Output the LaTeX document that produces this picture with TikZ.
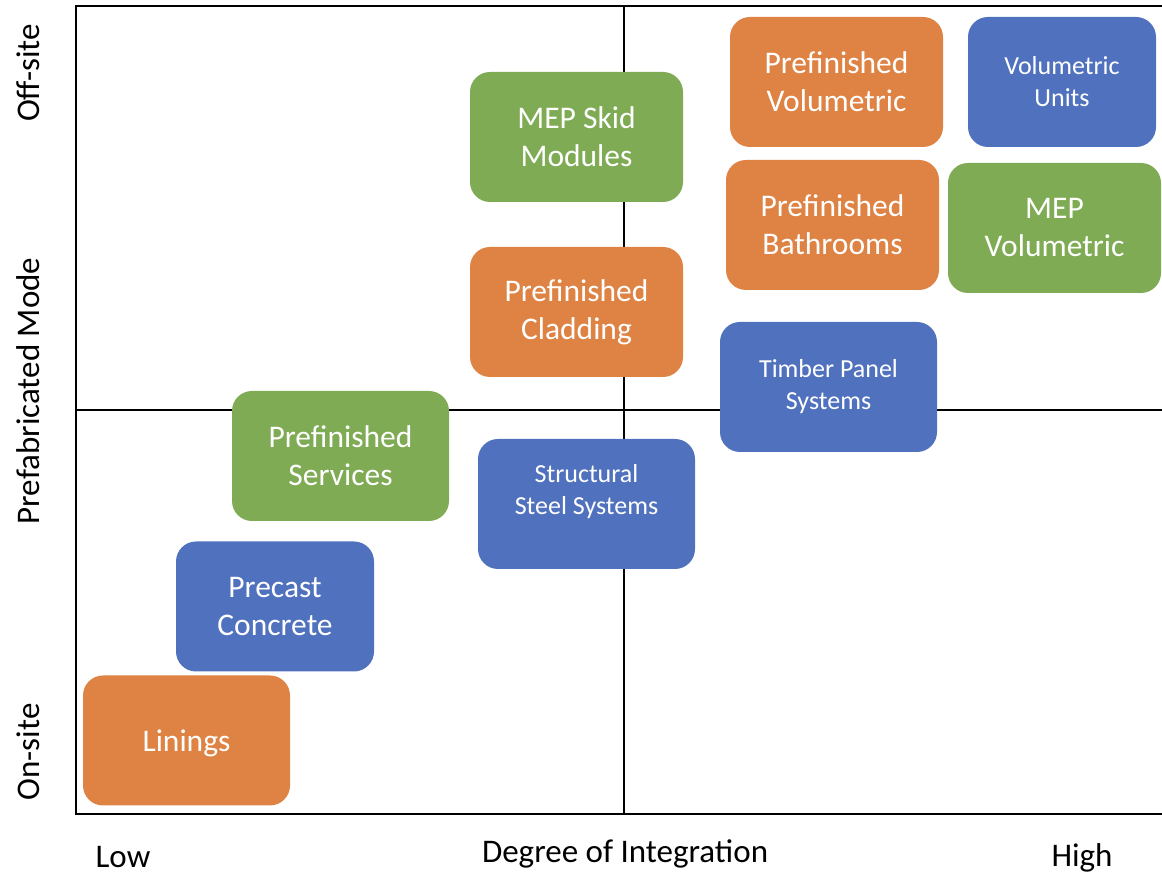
\documentclass[tikz,border=0pt]{standalone}
\usepackage{fontspec}
\setmainfont{Carlito}
\begin{document}
\begin{tikzpicture}[x=1pt,y=1pt,
  box/.style={rounded corners=20pt, draw=none, minimum width=213pt, minimum height=130pt,
    text=white, align=center, inner sep=0pt},
  big/.style={font=\fontsize{31.5}{38}\selectfont},
  small/.style={font=\fontsize{26}{32}\selectfont},
  axislbl/.style={font=\fontsize{33}{38}\selectfont, text=black, inner sep=0pt},
  frameline/.style={line width=2pt, black},
]
\definecolor{orng}{HTML}{DE8344}
\definecolor{blu}{HTML}{5071BE}
\definecolor{grn}{HTML}{7FAB55}

% page extent
\useasboundingbox (0,0) rectangle (1162,875);

% quadrant frame and centre lines
\coordinate (tl) at (76,869);
\coordinate (tr) at (1163,869);
\coordinate (bl) at (76,61);
\coordinate (br) at (1163,61);
\coordinate (vt) at (624,869);
\coordinate (vb) at (624,61);
\coordinate (hl) at (76,465);
\coordinate (hr) at (1163,465);
\draw[frameline] (tr) -- (tl) -- (bl) -- (br);
\draw[line width=1.5pt] (vt) -- (vb);
\draw[line width=1.5pt] (hl) -- (hr);

% boxes
\node[box, big, fill=orng, minimum width=213pt] (pvol) at (836.5,793) {Prefinished\\Volumetric};
\node[box, small, fill=blu, minimum width=188pt] (vunits) at (1062,793) {Volumetric\\Units};
\node[box, big, fill=grn] (mepskid) at (576.5,738) {MEP Skid\\Modules};
\node[box, big, fill=orng] (pbath) at (832.5,650) {Prefinished\\Bathrooms};
\node[box, big, fill=grn] (mepvol) at (1054.5,647) {MEP\\Volumetric};
\node[box, big, fill=orng] (pclad) at (576.5,563) {Prefinished\\Cladding};
\node[box, small, fill=blu, minimum width=217pt] (timber) at (828.5,488) {Timber Panel\\Systems};
\node[box, big, fill=grn, minimum width=217pt] (pserv) at (340.5,419) {Prefinished\\Services};
\node[box, fill=blu, minimum width=217pt] (steel) at (586.5,371) {};
\node[small, text=white, align=center, inner sep=0pt] (steeltxt) at ([yshift=12pt]steel.center) {Structural\\Steel Systems};
\node[box, big, fill=blu, minimum width=198pt] (precast) at (275,268.5) {Precast\\Concrete};
\node[box, big, fill=orng, minimum width=207pt, text depth=0pt] (linings) at (186.5,134.5) {Linings};

% axis labels
\node[axislbl, rotate=90] (offsite) at (28,802) {Off-site};
\node[axislbl, rotate=90] (mode) at (28,484) {Prefabricated Mode};
\node[axislbl, rotate=90] (onsite) at (28,123) {On-site};
\node[axislbl] (low) at (123,18) {Low};
\node[axislbl] (degree) at (625,21) {Degree of Integration};
\node[axislbl] (high) at (1082,17) {High};
\end{tikzpicture}
\end{document}
